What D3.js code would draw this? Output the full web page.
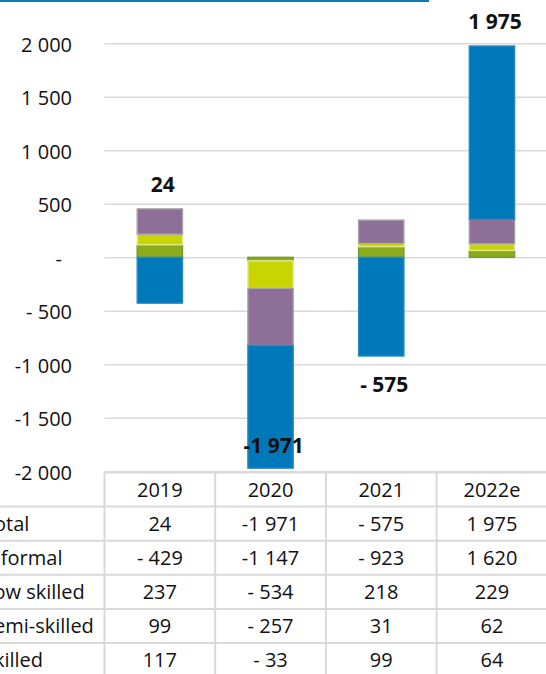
<!DOCTYPE html>
<html>
<head>
<meta charset="utf-8">
<script src="https://cdn.jsdelivr.net/npm/d3@7"></script>
<style>
  body { margin: 0; background: #fff; }
  svg { display: block; font-family: "Open Sans", sans-serif; }
</style>
</head>
<body>
<svg id="chart"></svg>
<script>
// data
var years = ["2019", "2020", "2021", "2022e"];
var informal = [-429, -1147, -923, 1620];
var lowSkilled = [237, -534, 218, 229];
var semiSkilled = [99, -257, 31, 62];
var skilled = [117, -33, 99, 64];
var total = [24, -1971, -575, 1975];
var yTicks = [-2000, -1500, -1000, -500, 0, 500, 1000, 1500, 2000];
var rowNames = ["Total", "Informal", "Low skilled", "Semi-skilled", "Skilled"];

var keys = ["skilled", "semi", "low", "informal"];
var colors = {skilled: "#8cab1b", semi: "#c9d500", low: "#8e6f97", informal: "#0079bb"};
var strokes = {skilled: "#6f9a2e", semi: "#e4ee9c", low: "#a8a3aa", informal: "#2a8ac4"};

var svg = d3.select("#chart")
    .attr("width", 546)
    .attr("height", 674);

var x = d3.scaleBand().domain(years).range([104.5, 547.3]).padding(0),
    y = d3.scaleLinear().domain([-2000, 2000]).range([471.3, 43.3]);

var nf = d3.formatLocale({decimal: ".", thousands: " ", grouping: [3], currency: ["", ""]}).format(",");
function fmt(v) {
  if (v === 0) return "-";
  var a = Math.abs(v);
  if (v > 0) return nf(a);
  return a < 1000 ? "- " + nf(a) : "-" + nf(a);
}

// blue rule at the top
svg.append("line")
    .attr("x1", 0).attr("x2", 429)
    .attr("y1", 1).attr("y2", 1)
    .attr("stroke", "#0e7bb6")
    .attr("stroke-width", 2);

// y axis with gridlines
var yaxis = svg.append("g")
    .attr("transform", "translate(104.5,0)")
    .call(d3.axisLeft(y).tickValues(yTicks).tickSizeInner(-442).tickSizeOuter(0).tickPadding(32.5).tickFormat(fmt));
yaxis.select(".domain").remove();
yaxis.selectAll("line").attr("stroke", "#d9d9d9").attr("stroke-width", 1.5);
yaxis.selectAll("text")
    .attr("fill", "#111")
    .attr("dy", "0.4em")
    .style("font-size", "20px")
    .style("font-family", "'Open Sans', sans-serif")
    .filter(function(d) { return d === 0; })
    .attr("dx", -10);

// stacked bars
var rows = years.map(function(yr, i) {
  return {year: yr, skilled: skilled[i], semi: semiSkilled[i], low: lowSkilled[i], informal: informal[i]};
});
var series = d3.stack().keys(keys).offset(d3.stackOffsetDiverging)(rows);
var barW = x.bandwidth() * 0.41;

svg.append("g").selectAll("g")
  .data(series)
  .enter().append("g")
    .attr("fill", function(s) { return colors[s.key]; })
    .attr("stroke", function(s) { return strokes[s.key]; })
    .attr("stroke-width", 1.3)
  .selectAll("rect")
  .data(function(s) { return s; })
  .enter().append("rect")
    .attr("x", function(d) { return x(d.data.year) + (x.bandwidth() - barW) / 2; })
    .attr("y", function(d) { return y(d[1]); })
    .attr("width", barW)
    .attr("height", function(d) { return Math.max(0, y(d[0]) - y(d[1])); });

// total labels
var posTop = years.map(function(yr, i) { return d3.max(series, function(s) { return s[i][1]; }); });
var negBottom = years.map(function(yr, i) { return d3.min(series, function(s) { return s[i][0]; }); });

svg.append("g").selectAll("text")
  .data(total)
  .enter().append("text")
    .attr("x", function(d, i) { return x(years[i]) + x.bandwidth() / 2 + 3; })
    .attr("y", function(d, i) {
      if (d >= 0) return y(posTop[i]) - 17;
      return Math.min(y(negBottom[i]) + 36, 453);
    })
    .attr("text-anchor", "middle")
    .attr("font-weight", "bold")
    .attr("font-size", 21)
    .attr("fill", "#111")
    .text(fmt);

// data table
var tableTop = 472.5, rowH = 34.1;
var tbl = svg.append("g").attr("stroke", "#d9d9d9").attr("stroke-width", 2);

tbl.append("line")
    .attr("x1", 104.5).attr("x2", 546)
    .attr("y1", tableTop).attr("y2", tableTop);

tbl.selectAll(".hline")
  .data(d3.range(1, rowNames.length + 2))
  .enter().append("line")
    .attr("class", "hline")
    .attr("x1", 0).attr("x2", 546)
    .attr("y1", function(k) { return tableTop + k * rowH; })
    .attr("y2", function(k) { return tableTop + k * rowH; });

tbl.selectAll(".vline")
  .data(years)
  .enter().append("line")
    .attr("class", "vline")
    .attr("x1", function(d) { return x(d); })
    .attr("x2", function(d) { return x(d); })
    .attr("y1", tableTop).attr("y2", 674);

var tableRows = [total, informal, lowSkilled, semiSkilled, skilled];
var txt = svg.append("g").attr("font-size", 20).attr("fill", "#111");

txt.selectAll(".yr")
  .data(years)
  .enter().append("text")
    .attr("class", "yr")
    .attr("x", function(d) { return x(d) + x.bandwidth() / 2; })
    .attr("y", tableTop + rowH / 2)
    .attr("dy", "0.36em")
    .attr("text-anchor", "middle")
    .text(function(d) { return d; });

// row names start left of the window, as in the original crop
txt.selectAll(".rname")
  .data(rowNames)
  .enter().append("text")
    .attr("class", "rname")
    .attr("x", -17)
    .attr("y", function(d, r) { return tableTop + (r + 1.5) * rowH; })
    .attr("dy", "0.36em")
    .text(function(d) { return d; });

tableRows.forEach(function(vals, r) {
  txt.selectAll(".cell" + r)
    .data(vals)
    .enter().append("text")
      .attr("class", "cell" + r)
      .attr("x", function(d, i) { return x(years[i]) + x.bandwidth() / 2; })
      .attr("y", tableTop + (r + 1.5) * rowH)
      .attr("dy", "0.36em")
      .attr("text-anchor", "middle")
      .text(fmt);
});
</script>
</body>
</html>
